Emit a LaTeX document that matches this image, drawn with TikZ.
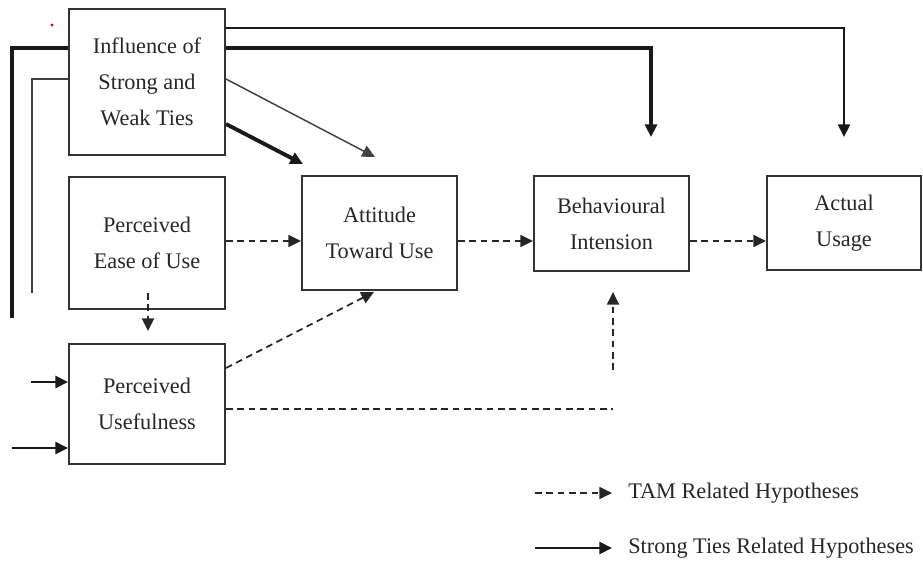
\documentclass[tikz,border=0pt]{standalone}
\usepackage{fontspec}
\setmainfont{Liberation Serif}
\usetikzlibrary{arrows.meta}
\begin{document}
\begin{tikzpicture}[x=0.75pt,y=-0.75pt,
  box/.style={draw=black!80, line width=1.5pt, align=center, inner sep=0pt,
    text=black!85, font=\fontsize{16.7}{27}\selectfont},
  lbl/.style={anchor=west, inner sep=0pt, text=black!85,
    font=\fontsize{16.7}{20}\selectfont},
  tip/.style={-{Triangle[length=9.5pt,width=9pt]}},
  thinline/.style={line width=1.1pt, draw=black!75},
  midline/.style={line width=2.1pt, draw=black!90},
  heavyline/.style={line width=2.9pt, draw=black!90},
  tamline/.style={line width=1.3pt, draw=black!85, dash pattern=on 5pt off 3.5pt},
  tam/.style={tamline, tip}]
\useasboundingbox (0,0) rectangle (923,565);

% constructs
\node[box, minimum width=117pt, minimum height=109.5pt] (infl) at (147,82)
  {Influence of\\Strong and\\Weak Ties};
\node[box, minimum width=117pt, minimum height=99pt] (peou) at (147,243)
  {Perceived\\Ease of Use};
\node[box, minimum width=117pt, minimum height=90pt] (pu) at (147,404)
  {Perceived\\Usefulness};
\node[box, minimum width=116.25pt, minimum height=85.5pt] (att) at (379.5,233)
  {Attitude\\Toward Use};
\node[box, minimum width=116.25pt, minimum height=71.25pt] (bi) at (611.5,223.5)
  {Behavioural\\Intension};
\node[box, minimum width=115.5pt, minimum height=70.5pt] (au) at (844,223)
  {Actual\\Usage};

% rows and free ends of connectors
\coordinate (r28) at (0,28);
\coordinate (r48) at (0,48);
\coordinate (r79) at (0,79);
\coordinate (r124) at (0,124);
\coordinate (r241) at (0,241);
\coordinate (r368) at (0,368);
\coordinate (r409) at (0,409);
\coordinate (tAU) at (844,137);
\coordinate (tBI) at (651,137);
\coordinate (cL1) at (12,318);
\coordinate (cL2) at (32,293);
\coordinate (sPU1) at (31,382);
\coordinate (sPU2) at (12,448);
\coordinate (tA1) at (375,157);
\coordinate (tA2) at (303,164);
\coordinate (tA3) at (374,292);
\coordinate (sPE) at (148,293);
\coordinate (tPU) at (148,331);
\coordinate (eH) at (613,409);
\coordinate (sV) at (613,370);
\coordinate (tBI2) at (613,292);

% strong / weak ties links
\draw[midline, tip] (infl.east |- r28) -| (tAU);
\draw[heavyline, tip] (infl.east |- r48) -| (tBI);
\draw[heavyline] (infl.west |- r48) -| (cL1);
\draw[thinline] (infl.west |- r79) -| (cL2);
\draw[midline, tip] (sPU1) -- (pu.west |- sPU1);
\draw[midline, tip] (sPU2) -- (pu.west |- sPU2);
\draw[thinline, tip] (infl.east |- r79) -- (tA1);
\draw[heavyline, tip] (infl.east |- r124) -- (tA2);

% TAM links
\draw[tam] (peou.east |- r241) -- (att.west |- r241);
\draw[tam] (sPE) -- (tPU);
\draw[tam] (pu.east |- r368) -- (tA3);
\draw[tamline] (pu.east |- r409) -- (eH);
\draw[tam] (sV) -- (tBI2);
\draw[tam] (att.east |- r241) -- (bi.west |- r241);
\draw[tam] (bi.east |- r241) -- (au.west |- r241);

% legend
\coordinate (lg1a) at (535,493);
\coordinate (lg2a) at (535,548);
\node[lbl] (lg1) at (628,493) {TAM Related Hypotheses};
\node[lbl] (lg2) at (628,548) {Strong Ties Related Hypotheses};
\draw[tam] (lg1a) -- ([xshift=-12pt]lg1.west);
\draw[midline, tip] (lg2a) -- ([xshift=-12pt]lg2.west);

% stray red mark
\fill[red] (52,25) circle (1.6);
\end{tikzpicture}
\end{document}
